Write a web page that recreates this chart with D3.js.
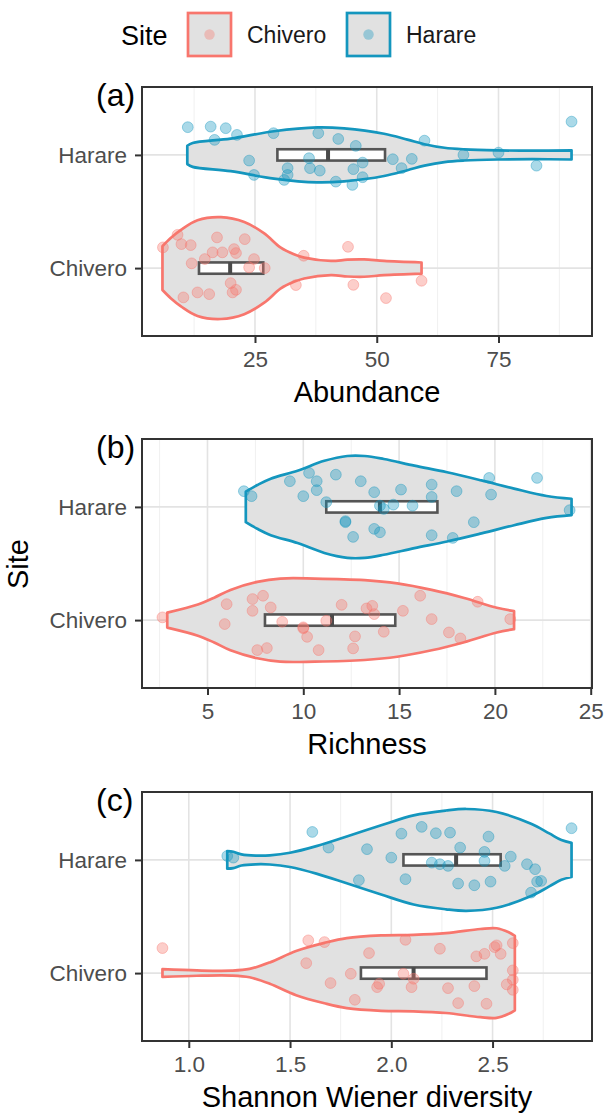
<!DOCTYPE html>
<html>
<head>
<meta charset="utf-8">
<script src="https://cdn.jsdelivr.net/npm/d3@7"></script>
<style>
  body { margin: 0; background: #fff; }
  svg text { font-family: "Liberation Sans", Arial, sans-serif; }
</style>
</head>
<body>
<div id="chart"></div>
<script>
// sites, top to bottom
const sites = ["Harare", "Chivero"];
const panelLabels = ["(a)", "(b)", "(c)"];
const axisTitles = ["Abundance", "Richness", "Shannon Wiener diversity"];
const tickValues = [[25, 50, 75], [5, 10, 15, 20, 25], [1.0, 1.5, 2.0, 2.5]];
const tickFormats = [d3.format("d"), d3.format("d"), d3.format(".1f")];

// points: [value, vertical jitter in category units]
const abundanceHarare = [
  [11.2, -0.245], [15.9, -0.25], [19.0, -0.236], [16.7, -0.133], [21.3, -0.177], [28.8, -0.192],
  [23.8, 0.05], [24.8, 0.177], [31.0, 0.221], [31.7, 0.117], [31.7, 0.177], [36.1, 0.029],
  [36.3, 0.117], [38.3, 0.139], [38.0, -0.192], [42.1, -0.141], [41.6, 0.236], [45.7, -0.08],
  [47.1, 0.068], [45.2, 0.126], [45.0, 0.265], [47.1, 0.197], [53.3, 0.038], [57.2, 0.035],
  [55.1, 0.117], [59.8, -0.126], [67.8, 0], [75.0, -0.02], [82.8, 0.095], [90.0, -0.294]
];
const abundanceChivero = [
  [6.1, -0.183], [9.1, -0.294], [9.9, -0.212], [11.8, -0.203], [12.0, -0.042], [10.3, 0.259],
  [13.2, 0.215], [15.6, 0.23], [14.7, -0.08], [16.3, -0.139], [17.2, -0.271], [18.3, -0.139],
  [20.7, -0.168], [21.1, -0.133], [22.9, -0.256], [24.8, -0.08], [23.8, -0.006], [27.0, 0],
  [20.0, 0.133], [21.1, 0.192], [20.4, 0.215], [33.4, 0.15], [35.0, -0.109], [44.1, -0.188],
  [45.2, 0.148], [51.9, 0.265], [59.2, 0.112]
];
const richnessHarare = [
  [6.9, -0.139], [7.3, -0.095], [9.3, -0.227], [10.0, -0.095], [10.3, -0.3], [10.7, -0.227],
  [10.7, -0.148], [11.2, -0.042], [11.7, -0.285], [12.2, 0.135], [12.2, 0.126], [12.6, 0.265],
  [13.0, -0.227], [13.7, -0.13], [13.7, 0.194], [14.0, 0.224], [14.0, -0.011], [14.2, 0.018],
  [14.7, -0.02], [15.1, -0.153], [15.7, -0.011], [16.7, -0.197], [16.7, -0.088], [16.7, 0.25],
  [17.8, 0.274], [18.0, -0.139], [18.9, 0.135], [19.7, -0.256], [19.8, -0.109], [22.2, -0.256],
  [23.9, 0.029]
];
const richnessChivero = [
  [2.65, -0.024], [5.9, 0.035], [6.0, -0.141], [7.35, -0.186], [7.9, -0.215], [7.35, -0.082],
  [8.3, -0.112], [7.6, 0.265], [8.1, 0.247], [8.9, 0.015], [10.0, 0.064], [10.0, 0.073],
  [10.2, 0.148], [10.8, 0.265], [11.2, 0.006], [12.0, -0.135], [12.6, 0.25], [12.7, 0.144],
  [13.3, -0.103], [13.6, -0.126], [13.7, -0.053], [14.2, 0.103], [15.2, -0.082], [16.1, -0.215],
  [16.7, -0.009], [17.6, 0.109], [18.2, 0.162], [19.1, -0.162], [20.8, -0.009]
];
const shannonHarare = [
  [1.19, -0.035], [1.22, -0.02], [1.61, -0.247], [1.69, -0.109], [1.88, -0.095], [1.84, 0.179],
  [2.00, -0.02], [2.05, -0.232], [2.07, 0.17], [2.15, -0.292], [2.22, -0.236], [2.29, -0.241],
  [2.34, -0.109], [2.20, 0.024], [2.24, 0.038], [2.28, 0.053], [2.33, 0.209], [2.41, 0.224],
  [2.49, 0.192], [2.46, -0.071], [2.46, 0.009], [2.48, -0.206], [2.56, 0.053], [2.59, -0.029],
  [2.67, 0.038], [2.71, 0.082], [2.72, 0.192], [2.74, 0.186], [2.69, 0.289], [2.89, -0.28]
];
const shannonChivero = [
  [0.87, -0.221], [1.59, -0.289], [1.67, -0.274], [1.58, -0.088], [1.70, 0.088], [1.80, 0.006],
  [1.82, 0.236], [1.89, -0.177], [1.93, 0.124], [1.94, 0.095], [2.07, -0.294], [2.06, 0.006],
  [2.11, 0.05], [2.10, 0.124], [2.24, -0.215], [2.28, 0.133], [2.33, 0.265], [2.41, 0.115],
  [2.42, -0.148], [2.46, -0.17], [2.47, 0.271], [2.51, -0.23], [2.52, -0.245], [2.54, -0.17],
  [2.60, -0.265], [2.57, 0.1], [2.60, 0.059], [2.60, 0.148], [2.60, -0.024]
];

// violin outlines: [value, relative density]
const abundanceHarareViolin = [
  [11.1, 0.18], [12.2, 0.235], [20.0, 0.32], [28.9, 0.465], [37.8, 0.54], [43.3, 0.52],
  [51.5, 0.415], [56.3, 0.30], [59.8, 0.21], [63.9, 0.14], [68.0, 0.11], [74.8, 0.09],
  [82.0, 0.083], [90.0, 0.09]
];
const abundanceChiveroViolin = [
  [6.0, 0.43], [7.7, 0.59], [9.8, 0.75], [13.2, 0.94], [18.0, 1.0], [22.8, 0.905],
  [26.9, 0.68], [30.3, 0.40], [33.0, 0.27], [35.1, 0.205], [40.6, 0.14], [44.0, 0.165],
  [47.4, 0.17], [51.5, 0.14], [59.2, 0.11]
];
const richnessHarareViolin = [
  [7.0, 0.30], [7.6, 0.43], [8.3, 0.555], [9.7, 0.71], [11.1, 0.905], [12.3, 1.0],
  [13.2, 1.0], [14.2, 0.94], [15.8, 0.81], [17.5, 0.68], [19.3, 0.52], [21.0, 0.36],
  [22.7, 0.215], [24.0, 0.16]
];
const richnessChiveroViolin = [
  [2.9, 0.147], [4.5, 0.306], [5.35, 0.44], [6.2, 0.593], [7.6, 0.75], [8.8, 0.816],
  [10.6, 0.816], [13.2, 0.784], [14.9, 0.72], [16.7, 0.593], [18.4, 0.434], [20.1, 0.243],
  [21.0, 0.178]
];
const shannonHarareViolin = [
  [1.19, 0.172], [1.22, 0.16], [1.26, 0.11], [1.33, 0.086], [1.40, 0.09], [1.50, 0.14],
  [1.63, 0.27], [1.78, 0.46], [1.95, 0.68], [2.11, 0.875], [2.27, 0.97], [2.37, 1.0],
  [2.52, 0.94], [2.69, 0.71], [2.78, 0.52], [2.84, 0.39], [2.89, 0.335]
];
const shannonChiveroViolin = [
  [0.87, 0.076], [1.04, 0.052], [1.21, 0.048], [1.30, 0.082], [1.40, 0.21], [1.53, 0.434],
  [1.67, 0.593], [1.78, 0.688], [1.95, 0.74], [2.11, 0.75], [2.27, 0.784], [2.44, 0.866],
  [2.52, 0.88], [2.58, 0.80], [2.61, 0.73]
];

// boxes: [q1, median, q3], Harare then Chivero
const abundanceBoxes = [[29.6, 40.0, 51.7], [13.5, 19.9, 26.7]];
const richnessBoxes = [[11.2, 14.0, 17.0], [8.0, 11.5, 14.8]];
const shannonBoxes = [[2.06, 2.32, 2.54], [1.85, 2.11, 2.47]];

const colors = { Harare: "#1496BE", Chivero: "#F8766D" };
const violinFill = "#e1e1e1";

const W = 606, H = 1113;
const left = 142, right = 592, panelH = 249;
const tops = [87, 439, 792];

const svg = d3.select("#chart").append("svg")
  .attr("width", W)
  .attr("height", H);

svg.append("rect").attr("width", W).attr("height", H).attr("fill", "#fff");

function drawPanel(i, pts, violins, boxes) {
  const top = tops[i], bottom = top + panelH;
  const values = [].concat(...pts, ...violins).map(d => d[0]);
  const [mn, mx] = d3.extent(values);
  const pad = (mx - mn) * 0.05;
  const x = d3.scaleLinear().domain([mn - pad, mx + pad]).range([left, right]);
  const y = d3.scaleLinear().domain([-0.6, 1.6]).range([top, bottom]);
  const halfW = d3.scaleLinear().domain([0, 1]).range([0, y(0.45) - y(0)]);
  const boxHalf = y(0.05) - y(0);

  const g = svg.append("g");

  g.append("rect")
    .attr("x", left).attr("y", top)
    .attr("width", right - left).attr("height", panelH)
    .attr("fill", "#fff");

  // grid
  const major = tickValues[i];
  const step = major[1] - major[0];
  const minor = d3.range(major[0] - step / 2, x.domain()[1], step)
    .filter(v => v >= x.domain()[0]);

  g.selectAll(".minor")
    .data(minor)
    .enter().append("line")
    .attr("x1", d => x(d)).attr("x2", d => x(d))
    .attr("y1", top).attr("y2", bottom)
    .attr("stroke", "#f0f0f0")
    .attr("stroke-width", 1);

  g.selectAll(".major")
    .data(major)
    .enter().append("line")
    .attr("x1", d => x(d)).attr("x2", d => x(d))
    .attr("y1", top).attr("y2", bottom)
    .attr("stroke", "#e3e3e3")
    .attr("stroke-width", 1.6);

  g.selectAll(".hgrid")
    .data([0, 1])
    .enter().append("line")
    .attr("x1", left).attr("x2", right)
    .attr("y1", d => y(d)).attr("y2", d => y(d))
    .attr("stroke", "#e3e3e3")
    .attr("stroke-width", 1.6);

  // violins
  violins.forEach((v, k) => {
    const area = d3.area()
      .x(d => x(d[0]))
      .y0(d => y(k) - halfW(d[1]))
      .y1(d => y(k) + halfW(d[1]))
      .curve(d3.curveCatmullRom);
    g.append("path")
      .attr("d", area(v))
      .attr("fill", violinFill)
      .attr("stroke", colors[sites[k]])
      .attr("stroke-width", 2.7)
      .attr("stroke-linejoin", "round");
  });

  // boxes
  boxes.forEach((b, k) => {
    g.append("rect")
      .attr("x", x(b[0]))
      .attr("y", y(k) - boxHalf)
      .attr("width", x(b[2]) - x(b[0]))
      .attr("height", boxHalf * 2)
      .attr("fill", "#fff")
      .attr("stroke", "#555")
      .attr("stroke-width", 2.6);
    g.append("line")
      .attr("x1", x(b[1])).attr("x2", x(b[1]))
      .attr("y1", y(k) - boxHalf).attr("y2", y(k) + boxHalf)
      .attr("stroke", "#4a4a4a")
      .attr("stroke-width", 4);
  });

  // jittered points
  pts.forEach((p, k) => {
    g.selectAll(".pt" + k)
      .data(p)
      .enter().append("circle")
      .attr("cx", d => x(d[0]))
      .attr("cy", d => y(k + d[1]))
      .attr("r", 5.4)
      .attr("fill", colors[sites[k]])
      .attr("fill-opacity", 0.36)
      .attr("stroke", colors[sites[k]])
      .attr("stroke-opacity", 0.4)
      .attr("stroke-width", 1);
  });

  // border
  g.append("rect")
    .attr("x", left).attr("y", top)
    .attr("width", right - left).attr("height", panelH)
    .attr("fill", "none")
    .attr("stroke", "#333")
    .attr("stroke-width", 2);

  // axes
  const xAxis = g.append("g")
    .attr("transform", `translate(0,${bottom})`)
    .call(d3.axisBottom(x).tickValues(major).tickFormat(tickFormats[i]).tickSize(7).tickPadding(8));
  const yAxis = g.append("g")
    .attr("transform", `translate(${left},0)`)
    .call(d3.axisLeft(y).tickValues([0, 1]).tickFormat(d => sites[d]).tickSize(7).tickPadding(8));

  [xAxis, yAxis].forEach(a => {
    a.select(".domain").remove();
    a.selectAll(".tick line").attr("stroke", "#333").attr("stroke-width", 2);
    a.selectAll(".tick text")
      .attr("fill", "#4d4d4d")
      .style("font-size", "22.5px")
      .style("font-family", "'Liberation Sans', Arial, sans-serif");
  });

  // axis title
  g.append("text")
    .attr("x", (left + right) / 2)
    .attr("y", bottom + 66)
    .attr("text-anchor", "middle")
    .attr("fill", "#000")
    .style("font-size", "29px")
    .text(axisTitles[i]);

  // panel tag
  g.append("text")
    .attr("x", 96)
    .attr("y", top + 19)
    .attr("fill", "#000")
    .style("font-size", "32px")
    .text(panelLabels[i]);
}

drawPanel(0, [abundanceHarare, abundanceChivero], [abundanceHarareViolin, abundanceChiveroViolin], abundanceBoxes);
drawPanel(1, [richnessHarare, richnessChivero], [richnessHarareViolin, richnessChiveroViolin], richnessBoxes);
drawPanel(2, [shannonHarare, shannonChivero], [shannonHarareViolin, shannonChiveroViolin], shannonBoxes);

// shared y title
svg.append("text")
  .attr("transform", `translate(28,${(tops[0] + tops[2] + panelH) / 2}) rotate(-90)`)
  .attr("text-anchor", "middle")
  .style("font-size", "29px")
  .text("Site");

// legend
const legend = svg.append("g");
legend.append("text")
  .attr("x", 121).attr("y", 45)
  .style("font-size", "27px")
  .text("Site");

const legendItems = ["Chivero", "Harare"];
const keyX = [188, 347];
legendItems.forEach((s, j) => {
  legend.append("rect")
    .attr("x", keyX[j]).attr("y", 13)
    .attr("width", 43).attr("height", 43)
    .attr("fill", violinFill)
    .attr("stroke", colors[s])
    .attr("stroke-width", 2.7);
  legend.append("circle")
    .attr("cx", keyX[j] + 21.5).attr("cy", 34.5)
    .attr("r", 5.2)
    .attr("fill", colors[s])
    .attr("fill-opacity", 0.36);
  legend.append("text")
    .attr("x", keyX[j] + 59).attr("y", 43)
    .style("font-size", "23px")
    .attr("fill", "#1a1a1a")
    .text(s);
});
</script>
</body>
</html>
